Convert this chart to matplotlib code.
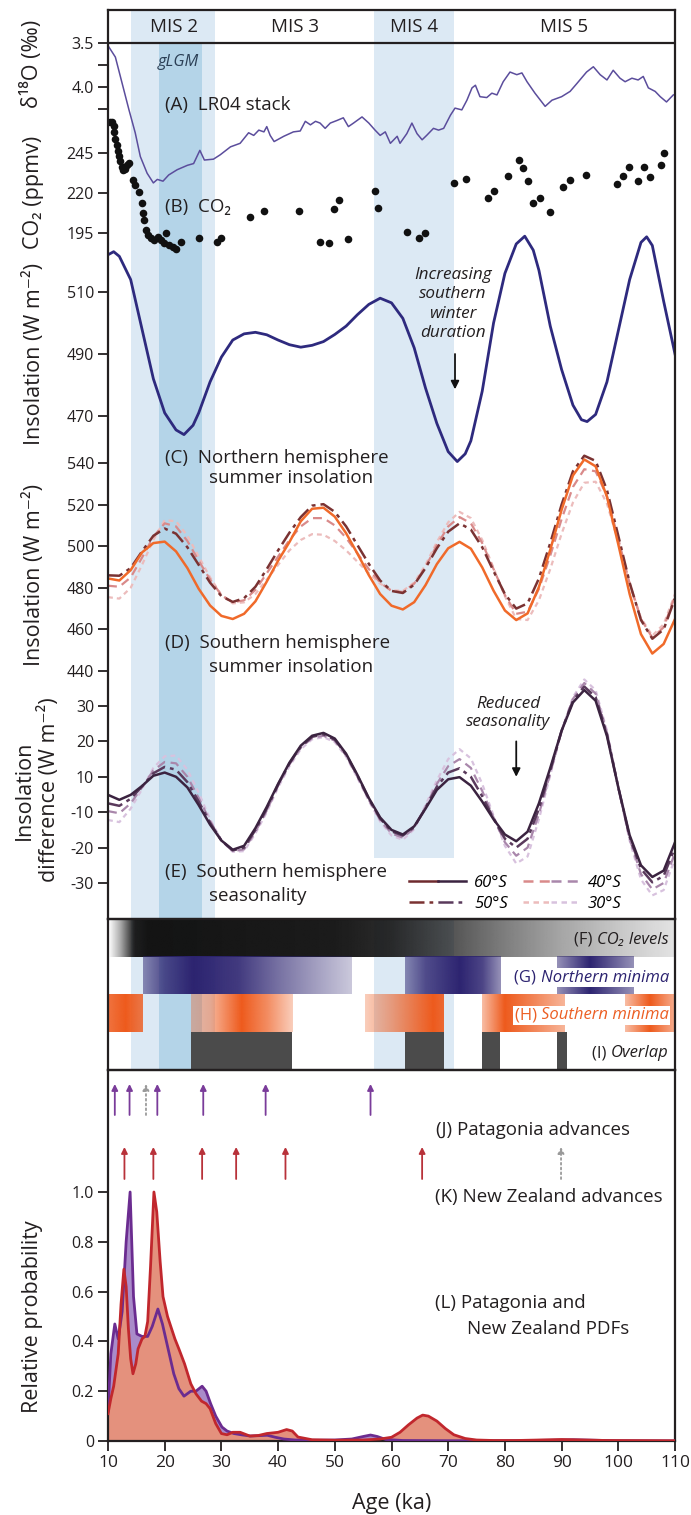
import numpy as np
import matplotlib
matplotlib.use("Agg")
import matplotlib.pyplot as plt
from matplotlib.lines import Line2D
from matplotlib.patches import Rectangle
from matplotlib.legend_handler import HandlerTuple

plt.rcParams['font.family'] = ['Open Sans', 'DejaVu Sans']

# ---------------- data ----------------
lr04_age = [10.1, 11.3, 12.5, 13.7, 14.8, 15.7, 16.9, 18.0, 18.7, 19.7, 20.7, 22.2, 24.0, 25.1, 26.2, 27.0, 28.6, 29.8, 31.6, 33.3,
            34.8, 35.7, 36.6, 37.5, 38.0, 38.6, 39.3, 41.0, 42.7, 43.9, 44.8, 45.7, 46.6, 47.4, 48.3, 49.2, 50.4, 51.5, 52.4, 53.3,
            54.8, 56.0, 57.1, 58.0, 58.9, 59.8, 61.0, 61.5, 62.7, 63.6, 64.5, 65.4, 66.2, 67.4, 68.3, 69.2, 70.4, 71.2, 72.4, 73.3,
            74.2, 74.8, 75.6, 76.8, 77.7, 78.6, 79.7, 80.9, 82.1, 83.0, 83.9, 85.3, 87.1, 88.3, 90.0, 91.5, 92.7, 94.4, 95.6, 96.8,
            98.0, 99.1, 100.3, 101.2, 102.4, 103.5, 104.4, 105.3, 106.5, 107.4, 108.5, 109.7]
lr04_d18o = [3.54, 3.66, 3.96, 4.26, 4.52, 4.79, 4.98, 5.09, 5.05, 5.07, 5.00, 4.94, 4.89, 4.87, 4.72, 4.83, 4.82, 4.77, 4.68, 4.64,
             4.52, 4.55, 4.49, 4.51, 4.45, 4.55, 4.62, 4.56, 4.51, 4.50, 4.39, 4.43, 4.39, 4.41, 4.47, 4.41, 4.38, 4.35, 4.45, 4.41,
             4.34, 4.41, 4.49, 4.55, 4.51, 4.64, 4.56, 4.64, 4.53, 4.41, 4.53, 4.60, 4.55, 4.47, 4.49, 4.47, 4.32, 4.24, 4.26, 4.15,
             4.01, 3.98, 4.11, 4.12, 4.07, 4.09, 3.94, 3.83, 3.86, 3.84, 3.94, 4.07, 4.22, 4.15, 4.11, 4.05, 3.96, 3.83, 3.77, 3.86,
             3.92, 3.81, 3.90, 3.94, 3.90, 3.92, 3.88, 4.01, 4.05, 4.11, 4.17, 4.09]

co2_age = [10.4, 10.7, 11.0, 11.1, 11.3, 11.5, 11.7, 11.9, 12.1, 12.4, 12.7, 13.0, 13.3, 13.7, 14.4, 14.8, 15.4, 16.0, 16.2, 16.4,
           16.7, 17.1, 17.5, 18.1, 18.8, 19.3, 19.9, 20.2, 20.8, 21.4, 22.0, 22.9, 26.1, 29.2, 30.0, 35.1, 37.6, 43.6, 47.4, 49.0,
           49.8, 50.7, 52.4, 57.1, 57.6, 62.7, 64.8, 65.9, 71.1, 73.1, 77.1, 78.1, 80.6, 82.5, 83.2, 84.0, 84.9, 86.2, 87.9, 90.3,
           91.4, 94.3, 99.7, 100.8, 101.8, 103.4, 104.6, 105.6, 107.5, 108.1]
co2_ppmv = [264.5, 264.5, 262.0, 258.0, 254.0, 250.0, 246.0, 243.0, 240.0, 236.0, 234.5, 235.0, 237.5, 238.5, 228.0, 225.0, 220.8, 213.6, 207.3, 203.1,
            196.9, 193.8, 191.7, 190.6, 192.3, 190.6, 188.6, 194.8, 187.5, 186.0, 184.8, 189.6, 191.7, 189.6, 192.1, 205.2, 209.0, 209.0, 189.6, 188.6,
            210.0, 215.6, 191.0, 221.5, 210.4, 195.8, 191.7, 194.8, 226.4, 228.5, 216.7, 221.5, 230.6, 240.6, 235.4, 227.5, 214.0, 216.7, 207.9, 224.0,
            228.1, 231.3, 225.4, 230.6, 236.4, 227.5, 236.4, 230.2, 237.5, 244.8]

nh_age = [10, 11, 12, 14, 16, 18, 20, 22, 23.4, 25, 26, 28, 30, 32, 34, 36, 38, 40, 42, 44,
          46, 48, 50, 52, 54, 56, 58, 60, 62, 64, 66, 68, 70, 71.6, 73, 74, 76, 78, 80, 82,
          83.5, 85, 86, 88, 90, 92, 93.5, 94.5, 96, 98, 100, 102, 104, 105, 106, 108, 110]
nh_insol = [522, 523, 521.5, 514, 498, 482, 471, 465.5, 464, 467, 471, 481, 489, 494.5, 496.5, 497, 496.2, 494.5, 493, 492.2,
            492.8, 494, 496.3, 499, 502.7, 506, 508, 506.5, 501.5, 492, 479, 467.6, 458.5, 455.3, 457.8, 462, 478, 500, 516, 525.5,
            528, 523.5, 517, 499, 485, 473.5, 468.8, 468.2, 470.5, 481, 497.5, 514, 526, 527.8, 525, 507, 490]

ins_age = list(range(10, 111, 2))
sh_insol_60 = [484.5, 483.5, 488.5, 497, 501.5, 502.2, 497.5, 489.5, 479.5, 471.5, 466.5, 465, 467.5, 473.5, 483, 493, 502, 512, 518, 518.5,
               514.2, 506.2, 496.4, 486.1, 477, 471.4, 469.6, 473.1, 481.3, 491.4, 499, 502.1, 498.8, 489.8, 478.6, 469.1, 464.5, 467.7, 480.4, 498.3,
               517.5, 534, 541.7, 538.4, 523.8, 500.9, 477, 457.7, 448.4, 453, 465]
sh_insol_50 = [486, 485.8, 489.5, 497.5, 505, 508.5, 506, 499.5, 491, 482.5, 476, 473.2, 475, 480.5, 489, 498, 506.5, 514, 519.5, 520.2,
               516.5, 509.5, 500.5, 491.5, 483.5, 478.5, 477.5, 481.5, 489.5, 499, 507, 511, 508, 499.5, 488, 477, 470, 472.5, 484.5, 501.5,
               520, 536, 543.5, 541, 527, 505, 482.5, 464.5, 455.5, 460, 475]
sh_insol_40 = [481, 480.5, 485, 494.5, 504.5, 511, 509.5, 502.5, 493, 484, 476.5, 473, 474, 479, 487, 495, 503, 509.5, 513.5, 513.5,
               510, 504, 496.5, 489, 482.5, 478.5, 478, 482, 490, 500.5, 509.5, 514, 511, 501.5, 489, 476.5, 467.5, 468.5, 479.5, 495.5,
               513, 528.5, 537, 536, 524, 503.5, 482, 465, 456, 461, 476]
sh_insol_30 = [475.5, 474.8, 480, 491, 503, 512.5, 512, 505, 495, 485, 476.5, 472.5, 473, 477, 484, 491, 498, 503, 505.8, 505.5,
               502.5, 498, 492.5, 487, 482, 478.8, 478.5, 482.5, 491, 502, 511.5, 516.5, 513.5, 503, 489.5, 476, 465, 464.5, 474, 489,
               506, 521, 530.5, 531, 520.5, 502, 482, 465.5, 457, 462.5, 477]

season_60 = [4.9, 3.5, 4.9, 7.4, 10.3, 11.2, 10.0, 7.0, 2.0, -3.5, -8.0, -10.6, -9.5, -4.5, 1.5, 8.0, 14.0, 18.8, 21.6, 22.4,
             20.8, 16.5, 10.5, 4.0, -1.5, -5.0, -6.3, -4.0, 1.0, 6.3, 9.3, 9.9, 7.5, 3.0, -2.0, -6.3, -8.2, -5.5, 2.5, 12.5,
             23.0, 31.0, 34.5, 31.5, 21.5, 7.0, -6.5, -15.0, -18.3, -16.5, -8.5]
season_50 = [2.5, 1.8, 3.8, 7.3, 11.0, 12.8, 12.0, 8.5, 3.0, -3.0, -8.0, -10.8, -10.0, -5.0, 1.0, 7.8, 13.8, 18.5, 21.3, 22.0,
             20.5, 16.3, 10.3, 3.8, -1.8, -5.4, -6.6, -4.2, 1.2, 7.2, 11.2, 12.4, 10.0, 4.5, -1.8, -7.5, -10.0, -7.5, 1.0, 11.8,
             23.0, 31.5, 35.5, 32.5, 22.0, 7.0, -7.0, -16.0, -19.8, -18.0, -10.0]
season_40 = [0.3, -0.3, 2.5, 7.0, 11.8, 14.2, 13.8, 10.0, 4.0, -2.5, -8.0, -11.0, -10.5, -5.5, 0.5, 7.5, 13.5, 18.2, 21.0, 21.6,
             20.2, 16.0, 10.0, 3.5, -2.2, -6.0, -7.2, -4.5, 1.5, 8.0, 13.0, 15.0, 12.5, 6.0, -1.5, -8.5, -12.3, -10.0, -0.5, 11.0,
             23.0, 32.0, 36.5, 33.5, 22.5, 7.0, -7.5, -17.5, -21.8, -20.0, -11.5]
season_30 = [-2.2, -2.8, 1.0, 6.5, 12.5, 15.8, 16.0, 12.0, 5.5, -2.0, -8.0, -11.2, -11.0, -6.0, 0.0, 7.0, 13.0, 17.8, 20.6, 21.2,
             19.8, 15.7, 9.7, 3.2, -2.6, -6.6, -7.8, -4.8, 2.0, 9.0, 15.0, 17.8, 15.2, 8.0, -1.0, -9.5, -14.5, -12.5, -2.0, 10.5,
             23.0, 32.5, 37.5, 34.5, 23.0, 7.0, -8.0, -19.0, -23.5, -22.0, -13.0]

mis_bounds = {'MIS2': (14.0, 28.8), 'gLGM': (19.0, 26.5), 'MIS4': (57.0, 71.0)}
mis_labels = ['MIS 2', 'MIS 3', 'MIS 4', 'MIS 5']
mis_label_age = [21.6, 43.0, 64.0, 90.4]

# bar panel: gradient stops (age, opacity)
co2_level_stops = ([10, 12, 14.5, 17, 50, 60, 70, 80, 90, 100, 110],
                   [0.0, 0.35, 0.95, 1.0, 0.97, 0.9, 0.74, 0.55, 0.38, 0.24, 0.12])
north_min_segments = [([16.2, 20, 25, 33, 40, 48, 53.0], [0.5, 0.8, 1.0, 0.9, 0.65, 0.4, 0.25]),
                      ([62.4, 66, 72, 76, 79.2], [0.5, 0.8, 1.0, 0.85, 0.5]),
                      ([89.2, 95, 102.7], [0.5, 1.0, 0.5])]
south_min_segments = [([10.0, 13, 16.0], [0.85, 1.0, 0.8]),
                      ([24.6, 28, 33.5, 38, 42.5], [0.35, 0.45, 1.0, 0.7, 0.3]),
                      ([55.4, 60, 67.4, 69.3], [0.3, 0.55, 1.0, 0.9]),
                      ([76.0, 80, 85, 90.6], [0.4, 1.0, 0.75, 0.45]),
                      ([101.2, 105.6, 110.0], [0.4, 1.0, 0.5])]
overlap_segments = [(24.6, 42.5), (62.4, 69.3), (75.9, 79.2), (89.2, 91.0)]

# advances
patagonia_adv = [11.2, 13.8, 18.7, 26.8, 37.8, 56.3]
patagonia_adv_uncertain = [16.7]
nz_adv = [12.9, 18.0, 26.6, 32.6, 41.3, 65.4]
nz_adv_uncertain = [89.9]

# PDFs
pat_age = [10, 10.5, 11.2, 11.8, 12.5, 13.2, 13.9, 14.5, 15.1, 16, 17, 17.8, 18.8, 19.6, 20.4, 21.6, 22.5, 23.4, 24.6, 25.5,
           26.6, 27.3, 28.1, 29, 30.1, 31, 32.2, 33.5, 35.1, 38.1, 39.5, 41, 43, 46, 50, 53, 55, 56.3, 57.5, 59,
           62, 70, 80, 88, 92, 96, 100, 110]
pat_pdf = [0.12, 0.35, 0.47, 0.41, 0.52, 0.8, 1.0, 0.58, 0.43, 0.42, 0.42, 0.46, 0.53, 0.47, 0.39, 0.27, 0.21, 0.18, 0.2, 0.2,
           0.22, 0.2, 0.15, 0.1, 0.056, 0.04, 0.03, 0.025, 0.02, 0.023, 0.015, 0.008, 0.004, 0.003, 0.004, 0.008, 0.018, 0.024, 0.018, 0.006,
           0.002, 0.001, 0.001, 0.003, 0.005, 0.003, 0.001, 0.0]
nz_age = [10, 10.5, 11, 11.8, 12.3, 12.8, 13.2, 13.6, 14.0, 14.4, 14.9, 15.3, 16, 16.5, 17.0, 17.5, 18.1, 18.6, 19.2, 19.7,
          20.5, 21.8, 22.5, 23.5, 24.6, 25.5, 26.5, 27.3, 28, 29, 30, 31, 32, 33.3, 35, 36.5, 38, 40, 41.5, 42.5,
          43.5, 46, 50, 55, 58, 60, 61.5, 63, 64.5, 65.5, 66.5, 68, 69.5, 71, 73, 75, 78, 82, 86, 90,
          94, 98, 110]
nz_pdf = [0.11, 0.17, 0.22, 0.35, 0.55, 0.69, 0.62, 0.45, 0.33, 0.27, 0.31, 0.37, 0.41, 0.42, 0.48, 0.7, 1.0, 0.92, 0.72, 0.58,
          0.5, 0.41, 0.37, 0.31, 0.23, 0.19, 0.16, 0.15, 0.13, 0.07, 0.03, 0.025, 0.035, 0.035, 0.02, 0.022, 0.03, 0.035, 0.046, 0.04,
          0.016, 0.005, 0.003, 0.004, 0.008, 0.015, 0.035, 0.065, 0.092, 0.104, 0.1, 0.08, 0.05, 0.025, 0.01, 0.004, 0.002, 0.002, 0.004, 0.006,
          0.004, 0.002, 0.001]

# ---------------- styling ----------------
W, H = 691, 1515
XL, XR = 108, 675
FS = 11.5          # y tick labels
TXT = 13.5         # panel labels
YL = 15.5          # axis titles
TC = '#231f20'
C_LR04 = '#5b4d9c'
C_NH = '#2e2a7e'
C_ORANGE = '#f06a2a'
C_D = {'60': C_ORANGE, '50': '#7a3232', '40': '#d98a8a', '30': '#ecbcbc'}
C_E = {'60': '#3b2340', '50': '#5a3a5c', '40': '#a987ab', '30': '#d8c2de'}
C_LEG_D = {'60': '#6e2a2e', '50': '#7a3232', '40': '#d98a8a', '30': '#ecbcbc'}
DASH = {'60': None, '50': (6, 2, 1.5, 2), '40': (4, 2.5), '30': (2.2, 1.8)}
LIGHT_BLUE = '#dce9f4'
DARK_BLUE = '#b4d4e8'


def box(x0, y0, x1, y1):
    return [x0 / W, 1 - y1 / H, (x1 - x0) / W, (y1 - y0) / H]


def fx(x):
    return x / W


def fy(y):
    return 1 - y / H


fig = plt.figure(figsize=(W / 100, H / 100), dpi=100)

# background shading
ax_bg = fig.add_axes(box(XL, 10, XR, 1070), zorder=0)
ax_bg.set_xlim(10, 110)
ax_bg.set_ylim(0, 1)
ax_bg.axis('off')
ax_bg.axvspan(*mis_bounds['MIS2'], ymin=0, ymax=1, color=LIGHT_BLUE, lw=0)
ax_bg.axvspan(*mis_bounds['MIS4'], ymin=0, ymax=1, color=LIGHT_BLUE, lw=0)
ax_bg.axvspan(*mis_bounds['gLGM'], ymin=0, ymax=(1070 - 43) / 1060, color=DARK_BLUE, lw=0)


def data_ax(y0, y1, ylim, ticks, labels):
    ax = fig.add_axes(box(XL, y0, XR, y1), zorder=1)
    ax.set_facecolor('none')
    for s in ax.spines.values():
        s.set_visible(False)
    ax.set_xlim(10, 110)
    ax.set_ylim(*ylim)
    ax.set_xticks([])
    ax.set_yticks(ticks)
    ax.set_yticklabels(labels)
    ax.tick_params(axis='y', direction='out', length=7, width=1.3, labelsize=FS, pad=3, colors=TC)
    return ax


# (A) LR04
ax_a = data_ax(43, 200, (3.5 + 157 / 88, 3.5), [3.5, 3.75, 4.0, 4.25], ['3.5', '', '4.0', ''])
ax_a.plot(lr04_age, lr04_d18o, color=C_LR04, lw=1.1)

# (B) CO2
ax_b = data_ax(110, 255, (245 - 102 / 1.6, 245 + 43 / 1.6), [195, 220, 245], ['195', '220', '245'])
ax_b.scatter(co2_age, co2_ppmv, s=30, color='#111111', lw=0, zorder=3)

# (C) NH insolation
ax_c = data_ax(225, 470, (470 - 54 / 3.1, 510 + 67 / 3.1), [470, 490, 510], ['470', '490', '510'])
ax_c.plot(nh_age, nh_insol, color=C_NH, lw=2.0)
ax_c.annotate('', xy=(71.2, 478.6), xytext=(71.2, 490.0),
              arrowprops=dict(arrowstyle='-|>', color='#111111', lw=1.3, mutation_scale=12, shrinkA=0, shrinkB=0))

# (D) SH insolation
ax_d = data_ax(440, 690, (440 - 19 / 2.08, 540 + 23 / 2.08), [440, 460, 480, 500, 520, 540],
               ['440', '460', '480', '500', '520', '540'])
for key, vals in (('30', sh_insol_30), ('40', sh_insol_40), ('50', sh_insol_50), ('60', sh_insol_60)):
    ln, = ax_d.plot(ins_age, vals, color=C_D[key], lw=1.8 if key in ('60', '50') else 1.6)
    if DASH[key] is not None:
        ln.set_dashes(DASH[key])

# (E) seasonality
ax_e = data_ax(660, 919, (-20 - 36 / 3.54, 30 + 46 / 3.54), [30, 20, 10, 0, -10, -20],
               ['30', '20', '10', '-10', '-20', '-30'])
ax_e.add_patch(Rectangle((fx(372), fy(919)), fx(612) - fx(372), fy(858) - fy(919), transform=fig.transFigure,
                         facecolor='white', edgecolor='none', zorder=1))
for key, vals in (('30', season_30), ('40', season_40), ('50', season_50), ('60', season_60)):
    ln, = ax_e.plot(ins_age, vals, color=C_E[key], lw=1.8 if key in ('60', '50') else 1.6, zorder=2)
    if DASH[key] is not None:
        ln.set_dashes(DASH[key])
ax_e.annotate('', xy=(82.0, 10.0), xytext=(82.0, 20.0),
              arrowprops=dict(arrowstyle='-|>', color='#111111', lw=1.3, mutation_scale=12, shrinkA=0, shrinkB=0))

handles, labels = [], []
for key in ('60', '50', '40', '30'):
    hd = Line2D([], [], color=C_LEG_D[key], lw=1.8)
    he = Line2D([], [], color=C_E[key], lw=1.8)
    if DASH[key] is not None:
        hd.set_dashes(DASH[key])
        he.set_dashes(DASH[key])
    handles.append((hd, he))
    labels.append(key + '°S')
leg = ax_e.legend(handles, labels, ncol=2, handler_map={tuple: HandlerTuple(ndivide=None, pad=0.0)},
                  loc='lower left', bbox_to_anchor=(fx(406), fy(915)), bbox_transform=fig.transFigure,
                  frameon=False, borderaxespad=0, handlelength=3.4, handletextpad=0.5,
                  columnspacing=0.9, labelspacing=0.3, borderpad=0.2,
                  prop={'style': 'italic', 'size': 12})

# top frame
ax_top = fig.add_axes(box(XL, 10, XR, 919), zorder=2)
ax_top.set_facecolor('none')
ax_top.set_xlim(10, 110)
ax_top.set_ylim(0, 1)
ax_top.set_xticks([])
ax_top.set_yticks([])
for s in ax_top.spines.values():
    s.set_linewidth(1.6)
    s.set_color(TC)
ax_top.axhline((919 - 43) / 909, color=TC, lw=1.6)
for lab, a in zip(mis_labels, mis_label_age):
    ax_top.text(a, (919 - 27) / 909, lab, ha='center', va='center', fontsize=TXT, color=TC)

# bars panel
ax_bars = fig.add_axes(box(XL, 919, XR, 1070), zorder=2)
ax_bars.set_facecolor('none')
for s in ax_bars.spines.values():
    s.set_linewidth(1.6)
    s.set_color(TC)
ax_bars.set_xticks([])
ax_bars.set_yticks([])


def gradient(ax, xs, alphas, rgb, y0, y1):
    xs = np.asarray(xs, float)
    grid = np.linspace(xs[0], xs[-1], 300)
    a = np.interp(grid, xs, alphas)
    img = np.zeros((1, len(grid), 4))
    img[..., :3] = matplotlib.colors.to_rgb(rgb)
    img[0, :, 3] = a
    ax.imshow(img, extent=(xs[0], xs[-1], y0, y1), aspect='auto', interpolation='bilinear', zorder=1)


gradient(ax_bars, co2_level_stops[0], co2_level_stops[1], '#131313', 3.0, 4.0)
for xs, al in north_min_segments:
    gradient(ax_bars, xs, al, '#2c2370', 2.0, 3.0)
for xs, al in south_min_segments:
    gradient(ax_bars, xs, al, '#ee5a1c', 1.0, 2.0)
for a0, a1 in overlap_segments:
    ax_bars.fill_between([a0, a1], 0, 1, color='#4b4b4b', lw=0, zorder=1)
ax_bars.set_xlim(10, 110)
ax_bars.set_ylim(0, 4)


def bar_label(y, prefix, text, color, white):
    kw = dict(bbox=dict(facecolor='white', edgecolor='none', pad=1.0)) if white else {}
    t = ax_bars.text(108.9, y, text, ha='right', va='center', fontsize=12, style='italic', color=color, zorder=4, **kw)
    ax_bars.annotate(prefix, xy=(0, 0.5), xycoords=t, ha='right', va='center', fontsize=12, color=color,
                     zorder=4, **kw)


bar_label(3.45, '(F) ', 'CO₂ levels', TC, False)
bar_label(2.45, '(G) ', 'Northern minima', '#2c2370', True)
bar_label(1.45, '(H) ', 'Southern minima', '#ec5f24', True)
bar_label(0.45, '(I) ', 'Overlap', TC, False)

# PDF panel
ax_pdf = fig.add_axes(box(XL, 1070, XR, 1441), zorder=2)
ax_pdf.set_facecolor('none')
for s in ax_pdf.spines.values():
    s.set_linewidth(1.6)
    s.set_color(TC)
ax_pdf.fill_between(pat_age, pat_pdf, color='#a98bc9', lw=0, zorder=1)
ax_pdf.fill_between(nz_age, nz_pdf, color='#e4917d', lw=0, zorder=2)
ax_pdf.plot(pat_age, pat_pdf, color='#6b2c90', lw=2.0, zorder=3)
ax_pdf.plot(nz_age, nz_pdf, color='#c1272d', lw=2.0, zorder=4)
ax_pdf.set_xlim(10, 110)
ax_pdf.set_ylim(0, 371 / 249)
ax_pdf.set_yticks([0, 0.2, 0.4, 0.6, 0.8, 1.0])
ax_pdf.set_yticklabels(['0', '0.2', '0.4', '0.6', '0.8', '1.0'])
ax_pdf.set_xticks(range(10, 111, 10))
ax_pdf.tick_params(direction='out', length=7, width=1.3, pad=3, colors=TC)
ax_pdf.tick_params(axis='x', labelsize=12.5)
ax_pdf.tick_params(axis='y', labelsize=FS)


def arrows(ages, y0, y1, color, ls='-'):
    for a in ages:
        ax_pdf.annotate('', xy=(a, y1), xytext=(a, y0),
                        arrowprops=dict(arrowstyle='-|>', color=color, lw=1.3, mutation_scale=9,
                                        shrinkA=0, shrinkB=0, linestyle=ls), zorder=5)


arrows(patagonia_adv, (1441 - 1115) / 249, (1441 - 1084) / 249, '#7a3c9a')
arrows(patagonia_adv_uncertain, (1441 - 1115) / 249, (1441 - 1084) / 249, '#9a9a9a', ':')
arrows(nz_adv, (1441 - 1179) / 249, (1441 - 1147) / 249, '#b8323a')
arrows(nz_adv_uncertain, (1441 - 1179) / 249, (1441 - 1147) / 249, '#9a9a9a', ':')

# ---------------- texts ----------------
fig.text(fx(165), fy(105), '(A)  LR04 stack', ha='left', va='center', fontsize=TXT, color=TC)
fig.text(fx(165), fy(207), '(B)  CO₂', ha='left', va='center', fontsize=TXT, color=TC)
fig.text(fx(178), fy(62), 'gLGM', ha='center', va='center', fontsize=11.8, style='italic', color='#2b3f55')
fig.text(fx(165), fy(458), '(C)  Northern hemisphere', ha='left', va='center', fontsize=TXT, color=TC)
fig.text(fx(209), fy(478), 'summer insolation', ha='left', va='center', fontsize=TXT, color=TC)
fig.text(fx(165), fy(643), '(D)  Southern hemisphere', ha='left', va='center', fontsize=TXT, color=TC)
fig.text(fx(209), fy(667), 'summer insolation', ha='left', va='center', fontsize=TXT, color=TC)
fig.text(fx(165), fy(872), '(E)  Southern hemisphere', ha='left', va='center', fontsize=TXT, color=TC)
fig.text(fx(209), fy(896), 'seasonality', ha='left', va='center', fontsize=TXT, color=TC)
fig.text(fx(453), fy(304), 'Increasing\nsouthern\nwinter\nduration', ha='center', va='center', fontsize=12.3,
         style='italic', linespacing=1.3, color=TC)
fig.text(fx(508), fy(713), 'Reduced\nseasonality', ha='center', va='center', fontsize=12.3, style='italic',
         linespacing=1.25, color=TC)
fig.text(fx(436), fy(1130), '(J) Patagonia advances', ha='left', va='center', fontsize=TXT, color=TC)
fig.text(fx(435), fy(1197), '(K) New Zealand advances', ha='left', va='center', fontsize=TXT, color=TC)
fig.text(fx(435), fy(1303), '(L) Patagonia and', ha='left', va='center', fontsize=TXT, color=TC)
fig.text(fx(467), fy(1329), 'New Zealand PDFs', ha='left', va='center', fontsize=TXT, color=TC)

# y labels
fig.text(fx(32), fy(64), 'δ¹⁸O (‰)', rotation=90, ha='center', va='center', fontsize=YL, color=TC)
fig.text(fx(34), fy(192), 'CO₂ (ppmv)', rotation=90, ha='center', va='center', fontsize=YL, color=TC)
fig.text(fx(34), fy(354), 'Insolation (W m⁻²)', rotation=90, ha='center', va='center', fontsize=YL, color=TC)
fig.text(fx(34), fy(575), 'Insolation (W m⁻²)', rotation=90, ha='center', va='center', fontsize=YL, color=TC)
fig.text(fx(37), fy(790), 'Insolation\ndifference (W m⁻²)', rotation=90, ha='center', va='center', fontsize=YL,
         multialignment='center', linespacing=1.2, color=TC)
fig.text(fx(33), fy(1317), 'Relative probability', rotation=90, ha='center', va='center', fontsize=YL, color=TC)
fig.text(fx(392), fy(1503), 'Age (ka)', ha='center', va='center', fontsize=YL, color=TC)

fig.savefig('out.png', dpi=100)
